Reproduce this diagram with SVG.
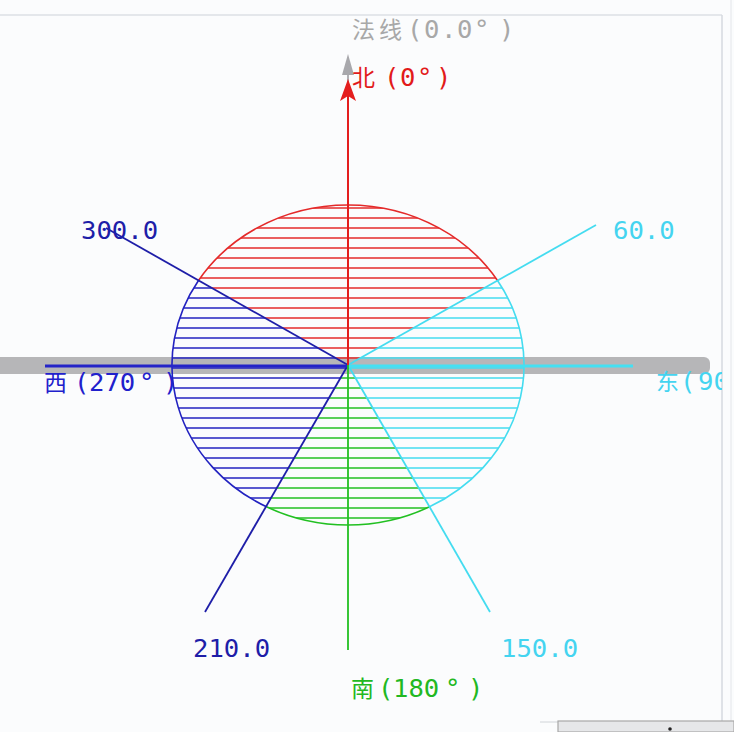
<svg xmlns="http://www.w3.org/2000/svg" width="734" height="732" viewBox="0 0 734 732">
<defs>
<style>
.t{font-family:"DejaVu Sans Mono","Noto Sans CJK SC",monospace;font-size:25.6px}
.c{font-family:"Noto Sans CJK SC","DejaVu Sans",sans-serif;font-size:23px}
.arc{fill:none;stroke-width:1.6}
.ray{stroke-width:1.8;fill:none}
</style>
<pattern id="hRed" patternUnits="userSpaceOnUse" x="0" y="0" width="734" height="10"><line x1="0" y1="8" x2="734" y2="8" stroke="#e42a2a" stroke-width="1.5"/></pattern>
<pattern id="hCyan" patternUnits="userSpaceOnUse" x="0" y="0" width="734" height="10"><line x1="0" y1="8" x2="734" y2="8" stroke="#44dcf0" stroke-width="1.5"/></pattern>
<pattern id="hGreen" patternUnits="userSpaceOnUse" x="0" y="0" width="734" height="10"><line x1="0" y1="8" x2="734" y2="8" stroke="#22c022" stroke-width="1.5"/></pattern>
<pattern id="hBlue" patternUnits="userSpaceOnUse" x="0" y="0" width="734" height="10"><line x1="0" y1="8" x2="734" y2="8" stroke="#2222c0" stroke-width="1.5"/></pattern>
<clipPath id="frame"><rect x="0" y="0" width="722" height="732"/></clipPath>
</defs>
<rect width="734" height="732" fill="#fbfcfd"/>
<g id="frame-lines" fill="none">
<line x1="0" y1="15" x2="722" y2="15" stroke="#dde0e4" stroke-width="1.5"/>
<line x1="722" y1="15" x2="722" y2="722" stroke="#d6dadf" stroke-width="1.5"/>
<line x1="731" y1="0" x2="731" y2="722" stroke="#e4e6ea" stroke-width="1"/>
<line x1="540" y1="722" x2="558" y2="722" stroke="#d0d4d8" stroke-width="1"/>
<rect x="558" y="721" width="176" height="11" fill="#e6e7e9" stroke="#a8a8a8" stroke-width="1.2"/>
<circle cx="670" cy="729" r="1.8" fill="#222"/>
</g>
<g id="plane">
<rect x="-6" y="357" width="716" height="17" rx="6" fill="#b6b6b8"/>
</g>
<g id="sectors">
<g id="sector-north">
<path d="M348,365 L198.5,280.5 A176,160 0 0,1 497.5,280.5 Z" fill="url(#hRed)"/>
<path class="arc" d="M198.5,280.5 A176,160 0 0,1 497.5,280.5" stroke="#e42a2a"/>
</g>
<g id="sector-east">
<path d="M348,365 L497.5,280.5 A176,160 0 0,1 429.5,506.8 Z" fill="url(#hCyan)"/>
<path class="arc" d="M497.5,280.5 A176,160 0 0,1 429.5,506.8" stroke="#44dcf0"/>
</g>
<g id="sector-south">
<path d="M348,365 L429.5,506.8 A176,160 0 0,1 266.5,506.8 Z" fill="url(#hGreen)"/>
<path class="arc" d="M429.5,506.8 A176,160 0 0,1 266.5,506.8" stroke="#22c022"/>
</g>
<g id="sector-west">
<path d="M348,365 L266.5,506.8 A176,160 0 0,1 198.5,280.5 Z" fill="url(#hBlue)"/>
<path class="arc" d="M266.5,506.8 A176,160 0 0,1 198.5,280.5" stroke="#2222c0"/>
</g>
</g>
<g id="connectors">
<line class="ray" x1="348" y1="365" x2="106" y2="228" stroke="#1e1ea8"/>
<line class="ray" x1="348" y1="365" x2="596" y2="225" stroke="#44dcf0"/>
<line class="ray" x1="348" y1="365" x2="205" y2="612" stroke="#1e1ea8"/>
<line class="ray" x1="348" y1="365" x2="490" y2="612" stroke="#44dcf0"/>
<line x1="45" y1="366" x2="348" y2="366" stroke="#2424c8" stroke-width="3"/>
<line x1="348" y1="366" x2="633" y2="366" stroke="#44e0f2" stroke-width="3"/>
<line x1="348" y1="365" x2="348" y2="650" stroke="#22c022" stroke-width="1.8"/>
<line x1="348" y1="365" x2="348" y2="72" stroke="#a8a8ac" stroke-width="1.8"/>
<polygon points="348,54 342,75 354,75" fill="#a8a8ac"/>
<line x1="348" y1="365" x2="348" y2="96" stroke="#e41e1e" stroke-width="2"/>
<polygon points="348,79 340,101 348,96 356,101" fill="#e41e1e"/>
</g>
<g id="labels">
<text id="normal" class="t" fill="#a8a8a8" y="38"><tspan class="c" x="352">法</tspan><tspan class="c" x="379">线</tspan><tspan x="407">(</tspan><tspan x="424">0</tspan><tspan x="441">.</tspan><tspan x="457">0</tspan><tspan x="474">°</tspan><tspan x="499">)</tspan></text>
<text id="north" class="t" fill="#e21a1a" y="86"><tspan class="c" x="352">北</tspan><tspan x="384">(</tspan><tspan x="400">0</tspan><tspan x="417">°</tspan><tspan x="436">)</tspan></text>
<text id="l300" class="t" fill="#1e1ea8" x="81" y="239">300.0</text>
<text id="l60" class="t" fill="#44d4f0" x="613" y="239">60.0</text>
<text id="west" class="t" fill="#2020cc" y="391"><tspan class="c" x="44">西</tspan><tspan x="74">(</tspan><tspan x="89">270</tspan><tspan x="139">°</tspan><tspan x="163">)</tspan></text>
<g clip-path="url(#frame)"><text id="east" class="t" fill="#44d4f0" y="390"><tspan class="c" x="656">东</tspan><tspan x="680">(</tspan><tspan x="698">90</tspan></text></g>
<text id="l210" class="t" fill="#1e1ea8" x="193" y="657">210.0</text>
<text id="l150" class="t" fill="#44d4f0" x="501" y="657">150.0</text>
<text id="south" class="t" fill="#22b822" y="697"><tspan class="c" x="351">南</tspan><tspan x="378">(</tspan><tspan x="393">180</tspan><tspan x="445">°</tspan><tspan x="468">)</tspan></text>
</g>
</svg>
